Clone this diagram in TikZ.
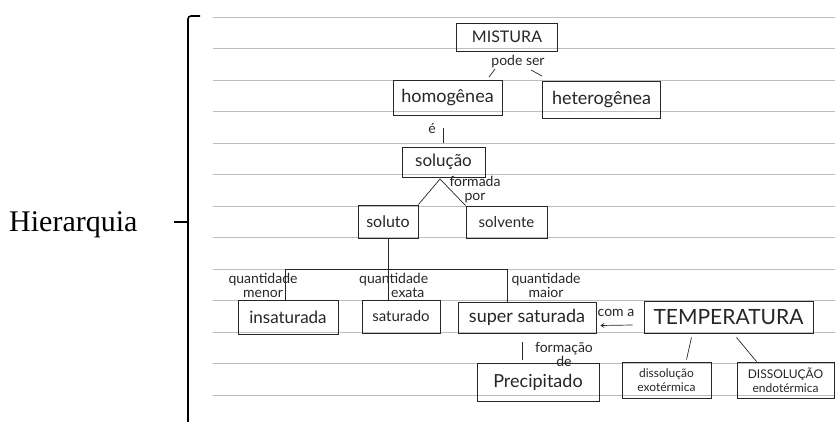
\documentclass[tikz,border=0pt]{standalone}
\usepackage{fontspec}
\setmainfont{Liberation Serif}
\newfontfamily\hand{Lato}
\usetikzlibrary{arrows.meta,calc}
\definecolor{ink}{RGB}{38,38,38}
\definecolor{paperline}{RGB}{188,190,192}
\begin{document}
\begin{tikzpicture}[x=1pt,y=-1pt,
  box/.style={draw=ink, line width=0.9pt, inner sep=0pt, align=center, text=ink},
  lbl/.style={inner sep=0pt, text=ink, font=\hand\fontsize{14}{14}\selectfont},
  link/.style={draw=ink, line width=0.7pt},
  rule/.style={draw=paperline, line width=0.7pt},
  bracket/.style={draw=black, line width=1.6pt},
]
\useasboundingbox (0,0) rectangle (835,422);

% ruled notebook paper
\foreach \k in {0,...,12}
  \draw[rule] (213,{17+31.5*\k}) -- (835,{17+31.5*\k});

% bracket and its caption
\draw[bracket, rounded corners=3pt] (200,16) -- (188,16) -- (188,425);
\coordinate (tick) at (174,222);
\draw[bracket] (tick) -- (188,222);
\node[anchor=base west, inner sep=0pt, font=\fontsize{30}{32}\selectfont] (hier) at (9,232) {Hierarquia};

% concept boxes
\node[box, minimum width=101pt, minimum height=28pt, font=\hand\fontsize{16}{17}\selectfont] (mist) at (507,37) {MISTURA};
\node[box, minimum width=109pt, minimum height=35pt, font=\hand\fontsize{18}{20}\selectfont] (homog) at (447.5,97.5) {homogênea};
\node[box, minimum width=118pt, minimum height=37pt, font=\hand\fontsize{18}{20}\selectfont] (heter) at (601.5,100) {heterogênea};
\node[box, minimum width=83pt, minimum height=30pt, font=\hand\fontsize{17}{19}\selectfont] (sol) at (443.5,162) {solução};
\node[box, minimum width=60pt, minimum height=33pt, font=\hand\fontsize{16}{18}\selectfont] (soluto) at (388,221.5) {soluto};
\node[box, minimum width=81pt, minimum height=32pt, font=\hand\fontsize{15}{17}\selectfont] (solv) at (506.5,222) {solvente};
\node[box, minimum width=100pt, minimum height=34pt, font=\hand\fontsize{17}{19}\selectfont] (insat) at (288,317) {insaturada};
\node[box, minimum width=78pt, minimum height=33pt, font=\hand\fontsize{15}{17}\selectfont] (sat) at (401,316.5) {saturado};
\node[box, minimum width=138pt, minimum height=31pt, font=\hand\fontsize{18}{20}\selectfont] (supsat) at (527,317.5) {super saturada};
\node[box, minimum width=169pt, minimum height=32pt, font=\hand\fontsize{21}{23}\selectfont] (temp) at (728.5,317) {TEMPERATURA};
\node[box, minimum width=122pt, minimum height=38pt, font=\hand\fontsize{18}{20}\selectfont] (precip) at (538,382) {Precipitado};
\node[box, minimum width=89pt, minimum height=36pt, font=\hand\fontsize{12}{14}\selectfont] (exo) at (666.5,380) {dissolução\\exotérmica};
\node[box, minimum width=97pt, minimum height=36pt, font=\hand\fontsize{12}{14}\selectfont] (endo) at (785.5,380) {DISSOLUÇÃO\\endotérmica};

% linking words
\node[lbl] (podeser) at (518,62) {pode ser};
\node[lbl] (e) at (432,128) {é};
\node[lbl, align=center] (formada) at (475,190) {formada\\por};
\node[lbl, align=center] (qmenor) at (263,285) {quantidade\\menor};
\node[lbl, align=left, anchor=west] (qexata) at (359,285) {quantidade\\\hspace*{32pt}exata};
\node[lbl, align=center] (qmaior) at (546,285) {quantidade\\maior};
\node[lbl] (coma) at (616,313) {com a};
\node[lbl, align=center] (formacao) at (564,354) {formação\\de};

% MISTURA pode ser ...
\coordinate (ps1) at (495,69);
\coordinate (ps2) at (489,77);
\coordinate (ps3) at (531,70);
\coordinate (ps4) at (542,76);
\draw[link] (ps1) -- (ps2);
\draw[link] (ps3) -- (ps4);

% homogênea é solução
\draw[link, shorten <=13pt, shorten >=4pt] ([xshift=-4pt]homog.south) -- (sol.north);

% solução formada por soluto / solvente
\coordinate (fork) at (440,179);
\draw[link] (soluto.north east) -- (fork) -- (solv.north west);

% soluto branches by quantity
\coordinate (bar) at (388,269);
\coordinate (barL) at (285,269);
\coordinate (barR) at (507,269);
\draw[link] (soluto.south) -- (bar |- sat.north);
\draw[link] (barL) -- (barR);
\draw[link] (barL) -- (barL |- insat.north);
\draw[link] (barR) -- (barR |- supsat.north);

% TEMPERATURA com a super saturada (canvas y points up, so shifts downward are negative)
\draw[link, -{Straight Barb[length=3pt,width=4pt]}] ([xshift=-11pt,yshift=-8pt]temp.west) -- ([xshift=4pt,yshift=-8pt]supsat.east);

% super saturada formação de Precipitado
\draw[link, shorten <=9pt, shorten >=3pt] ([xshift=-5pt]supsat.south) -- ([xshift=-5pt]supsat.south |- precip.north);

% TEMPERATURA to the two kinds of dissolution
\draw[link] ([xshift=-37pt,yshift=-4pt]temp.south) -- ([xshift=20pt,yshift=2pt]exo.north);
\draw[link] ([xshift=8pt,yshift=-4pt]temp.south) -- ([xshift=-29pt]endo.north);
\end{tikzpicture}
\end{document}
